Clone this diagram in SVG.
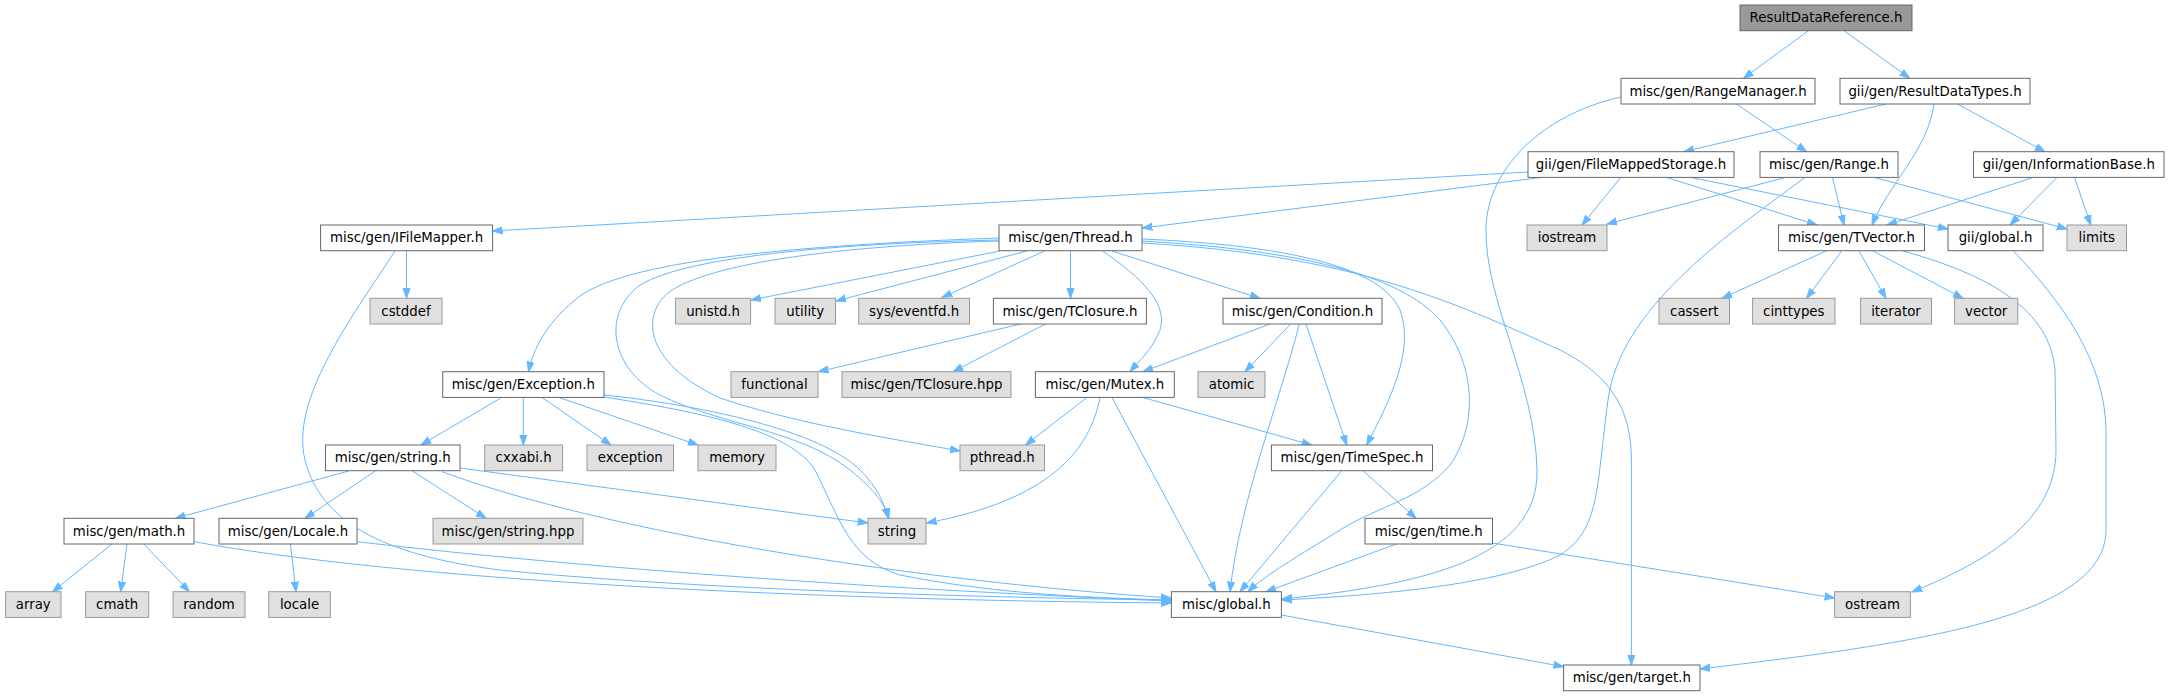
<svg xmlns="http://www.w3.org/2000/svg" width="2170" height="696" viewBox="0 0 2170 696">
<defs>
<style>
.n rect{fill:#ffffff;stroke:#666666;stroke-width:1}
.x rect{fill:#e0e0e0;stroke:#999999;stroke-width:1}
.r rect{fill:#999999;stroke:#666666;stroke-width:1}
text{font-family:"DejaVu Sans","Liberation Sans",sans-serif;font-size:13.33px;text-anchor:middle;fill:#000000}
#edges path{fill:none;stroke:#63b8ff;stroke-width:1;marker-end:url(#a)}
</style>
<marker id="a" markerWidth="11" markerHeight="9" refX="10" refY="4.5" orient="auto" markerUnits="userSpaceOnUse">
<path d="M0,1 L10,4.5 L0,8 z" fill="#63b8ff" stroke="#63b8ff" stroke-width="1"/>
</marker>
</defs>
<rect width="2170" height="696" fill="#ffffff"/>
<g id="edges">
<path d="M1808,31 L1743.5,78.3"/>
<path d="M1844.5,31 L1909.7,78.3"/>
<path d="M1621,97 C1540,115 1488,170 1486,227 C1484,300 1535,380 1537,470 C1539,560 1420,585 1282,599"/>
<path d="M1736.4,104 L1806.6,151.7"/>
<path d="M1886,104 L1683.8,151.7"/>
<path d="M1934,104 C1928,150 1888,185 1872,225"/>
<path d="M1957.4,104 L2045,151.7"/>
<path d="M1528,172 L492.5,231"/>
<path d="M1541,177.5 L1142.3,228"/>
<path d="M1620.7,177.5 L1582,225"/>
<path d="M1667,177.5 L1817,225"/>
<path d="M1691,177.5 L1948,229"/>
<path d="M1785.5,177.5 L1607,224"/>
<path d="M1805,177.5 C1720,240 1620,310 1608,400 C1596,490 1600,530 1560,555 C1500,585 1380,595 1282,600"/>
<path d="M1832.5,177.5 L1844,225"/>
<path d="M1874.6,177.5 L2067,229"/>
<path d="M2033,177.5 L1887,225"/>
<path d="M2057,177.5 L2010,225"/>
<path d="M2074.6,177.5 L2090.7,225"/>
<path d="M406.5,251 L406.5,298.3"/>
<path d="M395,251 C350,320 290,400 305,460 C320,520 380,555 500,570 C700,590 1000,598 1171,600"/>
<path d="M2013.5,251 C2060,300 2105,360 2106,430 L2106,530 C2106,620 1900,645 1700,669"/>
<path d="M1826,251 L1722,298.3"/>
<path d="M1841.7,251 L1806.6,298.3"/>
<path d="M1859,251 L1886,298.3"/>
<path d="M1873,251 L1963,298.3"/>
<path d="M1903,251 C1990,275 2050,310 2055,370 L2056,450 C2056,520 1990,560 1912,592"/>
<path d="M1000,251 L751,300"/>
<path d="M1026.8,251 L836,301"/>
<path d="M1044.6,251 L942,297.5"/>
<path d="M1070.5,251 L1070.5,298.3"/>
<path d="M999,238 C800,245 620,260 575,300 C545,325 533,350 528.5,371.7"/>
<path d="M999,240 C850,243 690,255 640,285 C600,315 612,370 660,395 C720,425 800,430 850,470 C875,490 885,505 889,518.3"/>
<path d="M999,241 C860,245 720,260 672,290 C640,312 642,362 720,398 C800,425 900,440 960,451"/>
<path d="M1102.7,251 C1130,270 1170,300 1160,330 C1152,350 1140,360 1130,371.7"/>
<path d="M1112,251 L1260,298.3"/>
<path d="M1142.3,239 C1280,245 1380,265 1400,310 C1415,350 1390,400 1366.7,445"/>
<path d="M1142.3,241 C1300,250 1400,275 1440,320 C1480,370 1475,430 1450,465 C1420,500 1380,505 1340,530 C1300,555 1265,575 1248,591.7"/>
<path d="M1142.3,243 C1350,255 1450,300 1560,350 C1620,380 1631,420 1631.4,460 L1631.4,665"/>
<path d="M1020.7,324 L818.5,371.7"/>
<path d="M1045.5,324 L953,371.7"/>
<path d="M1270,324 L1143,371.7"/>
<path d="M1290.7,324 L1245,371.7"/>
<path d="M1299.3,324 C1280,400 1240,500 1230,591.7"/>
<path d="M1306,324 L1346.7,445"/>
<path d="M501.6,397.5 L421,445"/>
<path d="M523.3,397.5 L523.3,445"/>
<path d="M542,397.5 L611,445"/>
<path d="M559,397.5 L698,445"/>
<path d="M604,395 C700,405 820,430 860,470 C878,488 885,505 888,518.3"/>
<path d="M604,397 C700,412 790,430 815,470 C840,520 850,560 900,575 C1000,595 1100,598 1171,600"/>
<path d="M1087,397.5 L1025.6,445"/>
<path d="M1100,397.5 C1090,450 1050,500 926.5,523"/>
<path d="M1112,397.5 L1216,591.7"/>
<path d="M1143,397.5 L1311.7,445"/>
<path d="M1341.8,470.7 L1240,591.7"/>
<path d="M1363,470.7 L1416,518.3"/>
<path d="M1396.4,544 L1266,591.7"/>
<path d="M1492.5,543 L1834.6,598"/>
<path d="M348.7,471 L175.4,518.3"/>
<path d="M375.3,471 L305,518.3"/>
<path d="M412.5,471 L486,518.3"/>
<path d="M460,468 L867.8,523"/>
<path d="M442,471.7 C600,530 900,580 1171,598"/>
<path d="M112,544 L52.6,591.7"/>
<path d="M127,544 L120.7,591.7"/>
<path d="M143.8,544 L189.4,591.7"/>
<path d="M194.3,541.7 C400,580 800,600 1171,603"/>
<path d="M290.4,544 L296,591.7"/>
<path d="M357,541.7 C600,570 900,590 1171,601"/>
<path d="M1281.4,615 L1563.6,666.7"/>
</g>
<g id="root" class="r"><rect x="1740" y="5" width="172" height="25.7"/><text x="1826" y="22.3">ResultDataReference.h</text></g>
<g id="rangemanager" class="n"><rect x="1621" y="78.3" width="194" height="25.7"/><text x="1718" y="95.6">misc/gen/RangeManager.h</text></g>
<g id="resultdatatypes" class="n"><rect x="1840" y="78.3" width="190" height="25.7"/><text x="1935" y="95.6">gii/gen/ResultDataTypes.h</text></g>
<g id="filemappedstorage" class="n"><rect x="1528" y="151.7" width="206" height="25.7"/><text x="1631" y="169">gii/gen/FileMappedStorage.h</text></g>
<g id="range" class="n"><rect x="1760" y="151.7" width="138" height="25.7"/><text x="1829" y="169">misc/gen/Range.h</text></g>
<g id="informationbase" class="n"><rect x="1973.5" y="151.7" width="190.5" height="25.7"/><text x="2068.75" y="169">gii/gen/InformationBase.h</text></g>
<g id="ifilemapper" class="n"><rect x="320.6" y="225" width="172" height="25.7"/><text x="406.6" y="242.3">misc/gen/IFileMapper.h</text></g>
<g id="thread" class="n"><rect x="999" y="225" width="143" height="25.7"/><text x="1070.5" y="242.3">misc/gen/Thread.h</text></g>
<g id="iostream" class="x"><rect x="1527" y="225" width="80" height="25.7"/><text x="1567" y="242.3">iostream</text></g>
<g id="tvector" class="n"><rect x="1778.5" y="225" width="146" height="25.7"/><text x="1851.5" y="242.3">misc/gen/TVector.h</text></g>
<g id="giiglobal" class="n"><rect x="1948" y="225" width="95" height="25.7"/><text x="1995.5" y="242.3">gii/global.h</text></g>
<g id="limits" class="x"><rect x="2067" y="225" width="59.5" height="25.7"/><text x="2096.75" y="242.3">limits</text></g>
<g id="cstddef" class="x"><rect x="370" y="298.3" width="72" height="25.7"/><text x="406" y="315.6">cstddef</text></g>
<g id="unistd" class="x"><rect x="675.6" y="298.3" width="75" height="25.7"/><text x="713.1" y="315.6">unistd.h</text></g>
<g id="utility" class="x"><rect x="775" y="298.3" width="60.5" height="25.7"/><text x="805.25" y="315.6">utility</text></g>
<g id="eventfd" class="x"><rect x="858.7" y="298.3" width="110.8" height="25.7"/><text x="914.1" y="315.6">sys/eventfd.h</text></g>
<g id="tclosure" class="n"><rect x="993.4" y="298.3" width="153" height="25.7"/><text x="1069.9" y="315.6">misc/gen/TClosure.h</text></g>
<g id="condition" class="n"><rect x="1223" y="298.3" width="159" height="25.7"/><text x="1302.5" y="315.6">misc/gen/Condition.h</text></g>
<g id="cassert" class="x"><rect x="1659" y="298.3" width="70.5" height="25.7"/><text x="1694.25" y="315.6">cassert</text></g>
<g id="cinttypes" class="x"><rect x="1752.6" y="298.3" width="82.4" height="25.7"/><text x="1793.8" y="315.6">cinttypes</text></g>
<g id="iterator" class="x"><rect x="1860.6" y="298.3" width="70.9" height="25.7"/><text x="1896" y="315.6">iterator</text></g>
<g id="vector" class="x"><rect x="1954.6" y="298.3" width="63.2" height="25.7"/><text x="1986.2" y="315.6">vector</text></g>
<g id="exceptionh" class="n"><rect x="442.7" y="371.7" width="161.3" height="25.7"/><text x="523.35" y="389">misc/gen/Exception.h</text></g>
<g id="functional" class="x"><rect x="731" y="371.7" width="87" height="25.7"/><text x="774.5" y="389">functional</text></g>
<g id="tclosurehpp" class="x"><rect x="842" y="371.7" width="169" height="25.7"/><text x="926.5" y="389">misc/gen/TClosure.hpp</text></g>
<g id="mutex" class="n"><rect x="1035.4" y="371.7" width="138.9" height="25.7"/><text x="1104.85" y="389">misc/gen/Mutex.h</text></g>
<g id="atomic" class="x"><rect x="1198" y="371.7" width="67" height="25.7"/><text x="1231.5" y="389">atomic</text></g>
<g id="stringh" class="n"><rect x="325.5" y="445" width="134.5" height="25.7"/><text x="392.75" y="462.3">misc/gen/string.h</text></g>
<g id="cxxabi" class="x"><rect x="484.7" y="445" width="77.9" height="25.7"/><text x="523.65" y="462.3">cxxabi.h</text></g>
<g id="exception" class="x"><rect x="587" y="445" width="86.5" height="25.7"/><text x="630.25" y="462.3">exception</text></g>
<g id="memory" class="x"><rect x="698" y="445" width="78" height="25.7"/><text x="737" y="462.3">memory</text></g>
<g id="pthread" class="x"><rect x="960" y="445" width="84.5" height="25.7"/><text x="1002.25" y="462.3">pthread.h</text></g>
<g id="timespec" class="n"><rect x="1271.4" y="445" width="161.1" height="25.7"/><text x="1351.95" y="462.3">misc/gen/TimeSpec.h</text></g>
<g id="math" class="n"><rect x="64" y="518.3" width="130" height="25.7"/><text x="129" y="535.6">misc/gen/math.h</text></g>
<g id="localeh" class="n"><rect x="219" y="518.3" width="138" height="25.7"/><text x="288" y="535.6">misc/gen/Locale.h</text></g>
<g id="stringhpp" class="x"><rect x="433" y="518.3" width="150" height="25.7"/><text x="508" y="535.6">misc/gen/string.hpp</text></g>
<g id="string" class="x"><rect x="868" y="518.3" width="58" height="25.7"/><text x="897" y="535.6">string</text></g>
<g id="time" class="n"><rect x="1365" y="518.3" width="127.5" height="25.7"/><text x="1428.75" y="535.6">misc/gen/time.h</text></g>
<g id="array" class="x"><rect x="5.6" y="591.7" width="55.4" height="25.7"/><text x="33.3" y="609">array</text></g>
<g id="cmath" class="x"><rect x="85.6" y="591.7" width="63.1" height="25.7"/><text x="117.15" y="609">cmath</text></g>
<g id="random" class="x"><rect x="173" y="591.7" width="72" height="25.7"/><text x="209" y="609">random</text></g>
<g id="locale" class="x"><rect x="268.7" y="591.7" width="61.7" height="25.7"/><text x="299.55" y="609">locale</text></g>
<g id="miscglobal" class="n"><rect x="1171.4" y="591.7" width="110" height="25.7"/><text x="1226.4" y="609">misc/global.h</text></g>
<g id="ostream" class="x"><rect x="1834.6" y="591.7" width="75.8" height="25.7"/><text x="1872.5" y="609">ostream</text></g>
<g id="target" class="n"><rect x="1563.6" y="665" width="136.4" height="25.7"/><text x="1631.8" y="682.3">misc/gen/target.h</text></g>
</svg>
